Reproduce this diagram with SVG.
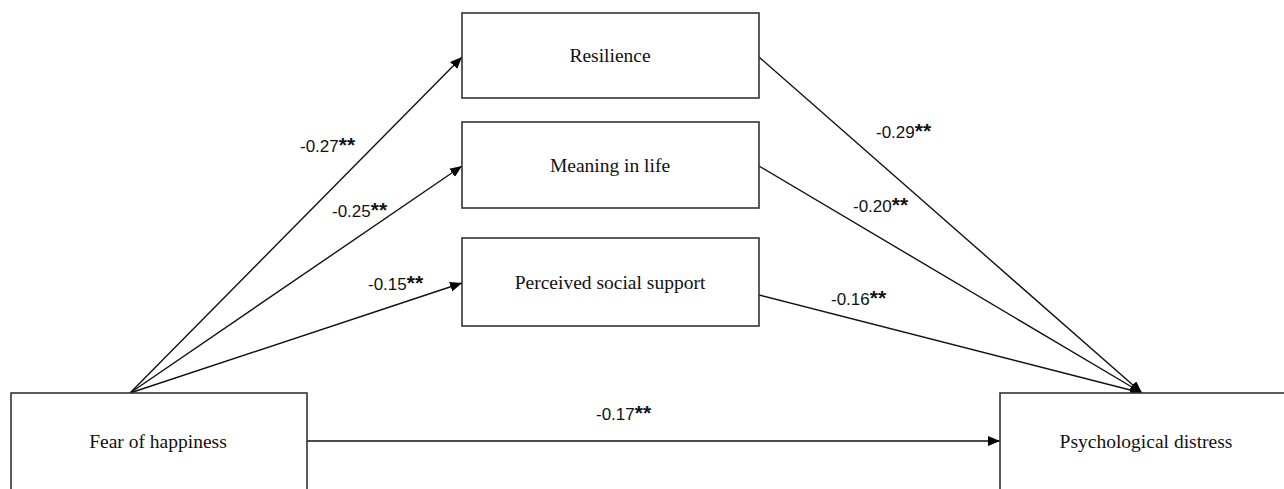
<svg xmlns="http://www.w3.org/2000/svg" width="1284" height="489" viewBox="0 0 1284 489">
<style>
.box{fill:#fff;stroke:#333;stroke-width:1.6}
.nl{font-family:"Liberation Serif","Times New Roman",serif;font-size:19.5px;fill:#111;text-anchor:middle}
.el{font-family:"Liberation Sans",Arial,sans-serif;font-size:17px;fill:#111}
.st{font-size:21px;font-weight:bold}
.cn{stroke:#111;stroke-width:1.4;fill:none;marker-end:url(#ah)}
</style>
<defs>
<marker id="ah" viewBox="0 0 12 10" refX="12" refY="5" markerWidth="12" markerHeight="10" markerUnits="userSpaceOnUse" orient="auto">
<path d="M0,0 L12,5 L0,10 Z" fill="#000"/>
</marker>
</defs>
<g id="connectors">
<line class="cn" x1="130" y1="393" x2="462" y2="57"/>
<line class="cn" x1="130" y1="393" x2="462" y2="166"/>
<line class="cn" x1="130" y1="393" x2="462" y2="283"/>
<line class="cn" x1="759" y1="57" x2="1142" y2="393"/>
<line class="cn" x1="759" y1="166" x2="1142" y2="393"/>
<line class="cn" x1="759" y1="295" x2="1142" y2="393"/>
<line class="cn" x1="307" y1="441" x2="1000" y2="441"/>
<text class="el" x="300" y="152">-0.27<tspan class="st">**</tspan></text>
<text class="el" x="332" y="217">-0.25<tspan class="st">**</tspan></text>
<text class="el" x="368" y="290">-0.15<tspan class="st">**</tspan></text>
<text class="el" x="876" y="138">-0.29<tspan class="st">**</tspan></text>
<text class="el" x="853" y="212">-0.20<tspan class="st">**</tspan></text>
<text class="el" x="831" y="305">-0.16<tspan class="st">**</tspan></text>
<text class="el" x="596" y="420">-0.17<tspan class="st">**</tspan></text>
</g>
<g id="resilience">
<rect class="box" x="462" y="13" width="297" height="85"/>
<text class="nl" x="610" y="62">Resilience</text>
</g>
<g id="meaning">
<rect class="box" x="462" y="122" width="297" height="86"/>
<text class="nl" x="610" y="172">Meaning in life</text>
</g>
<g id="support">
<rect class="box" x="462" y="238" width="297" height="88"/>
<text class="nl" x="610" y="289">Perceived social support</text>
</g>
<g id="fear">
<rect class="box" x="11" y="393" width="296" height="120"/>
<text class="nl" x="158" y="448">Fear of happiness</text>
</g>
<g id="distress">
<rect class="box" x="1000" y="393" width="300" height="120"/>
<text class="nl" x="1146" y="448">Psychological distress</text>
</g>
</svg>
